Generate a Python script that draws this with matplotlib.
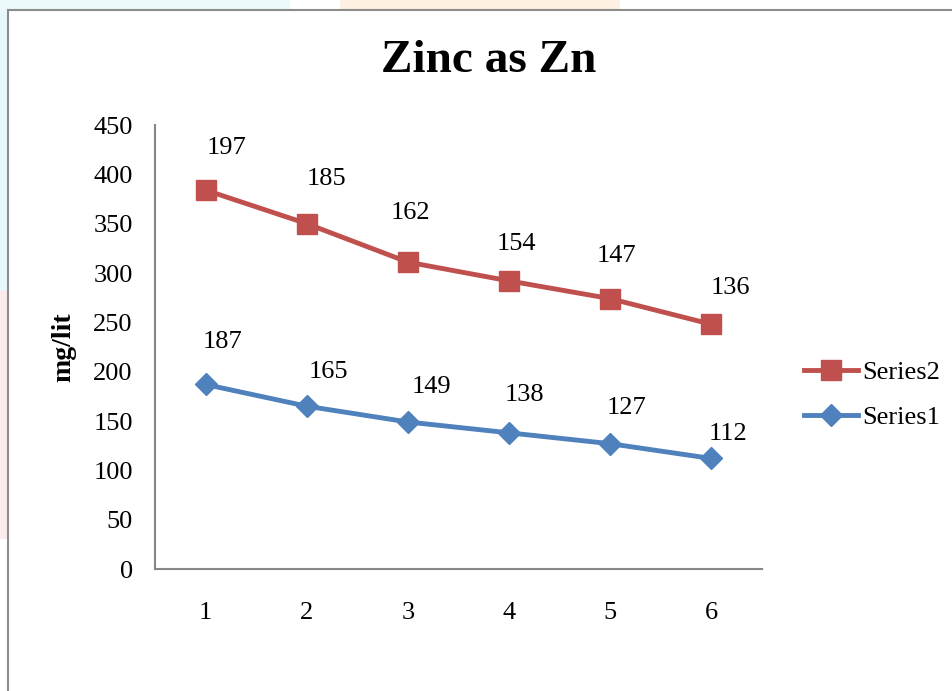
import numpy as np
import matplotlib.pyplot as plt
from matplotlib.patches import Rectangle

# sample number and zinc readings (mg/lit), Series2 is stacked on Series1
samples = [1, 2, 3, 4, 5, 6]
series1 = [187, 165, 149, 138, 127, 112]
series2 = [197, 185, 162, 154, 147, 136]
yticks = [0, 50, 100, 150, 200, 250, 300, 350, 400, 450]

# where each value label sits relative to its point (pixels, right / up)
s2_dx = [21, 20, 3, 7, 6, 19]
s2_dy = [42, 45, 49, 37, 43, 36]
s1_dx = [17, 22, 24, 15, 16, 17]
s1_dy = [42, 34, 35, 38, 36, 24]

plt.rcParams['font.family'] = ['Liberation Serif', 'DejaVu Serif']

fig = plt.figure(figsize=(9.53, 6.91), dpi=100)
fig.patch.set_facecolor('white')

# faint coloured edges behind the chart frame
fig.patches.append(Rectangle((0, 0.58), 8/953, 0.42, transform=fig.transFigure,
                             facecolor='#e6f8fb', edgecolor='none', zorder=0))
fig.patches.append(Rectangle((0, 0.22), 8/953, 0.36, transform=fig.transFigure,
                             facecolor='#fcebeb', edgecolor='none', zorder=0))
fig.patches.append(Rectangle((0, 1 - 10/691), 290/953, 10/691, transform=fig.transFigure,
                             facecolor='#ebf9fb', edgecolor='none', zorder=0))
fig.patches.append(Rectangle((340/953, 1 - 10/691), 280/953, 10/691, transform=fig.transFigure,
                             facecolor='#fdf1e4', edgecolor='none', zorder=0))
# chart area frame
fig.patches.append(Rectangle((8/953, -0.1), 1.1, 1 - 10/691 + 0.1, transform=fig.transFigure,
                             facecolor='none', edgecolor='#8c8c8c', linewidth=1.5, zorder=1))

ax = fig.add_axes([155/953, 122/691, 607/953, 444/691])
ax.set_facecolor('none')

x = np.array(samples)
s1 = np.array(series1)
s2 = s1 + np.array(series2)

ax.plot(x, s2, color='#C0504D', linewidth=3.5, marker='s', markersize=14,
        label='Series2', zorder=3)
ax.plot(x, s1, color='#4F81BD', linewidth=3.5, marker='D', markersize=11,
        label='Series1', zorder=3)

px = 72 / fig.dpi
for xi, yi, v, dx, dy in zip(x, s2, series2, s2_dx, s2_dy):
    ax.annotate(str(v), (xi, yi), xytext=(dx * px, dy * px), textcoords='offset points',
                ha='center', va='center', fontsize=19)
for xi, yi, v, dx, dy in zip(x, s1, series1, s1_dx, s1_dy):
    ax.annotate(str(v), (xi, yi), xytext=(dx * px, dy * px), textcoords='offset points',
                ha='center', va='center', fontsize=19)

ax.set_xlim(0.5, 6.5)
ax.set_ylim(0, 450)
ax.set_xticks(samples)
ax.set_yticks(yticks)
ax.tick_params(axis='both', length=0, labelsize=19)
ax.tick_params(axis='x', pad=24)
ax.tick_params(axis='y', pad=16)
for side in ['top', 'right']:
    ax.spines[side].set_visible(False)
for side in ['left', 'bottom']:
    ax.spines[side].set_color('#868686')
    ax.spines[side].set_linewidth(1.5)

ax.set_ylabel('mg/lit', fontsize=20, fontweight='bold', labelpad=12)
fig.text(489/953, 1 - 61/691, 'Zinc as Zn', fontsize=34, fontweight='bold',
         ha='center', va='center')

ax.legend(loc='center left', bbox_to_anchor=(1.052, 0.392), frameon=False,
          fontsize=19, handlelength=2.05, handletextpad=0.15, labelspacing=0.8,
          borderaxespad=0)

fig.savefig('out.png', dpi=100)
